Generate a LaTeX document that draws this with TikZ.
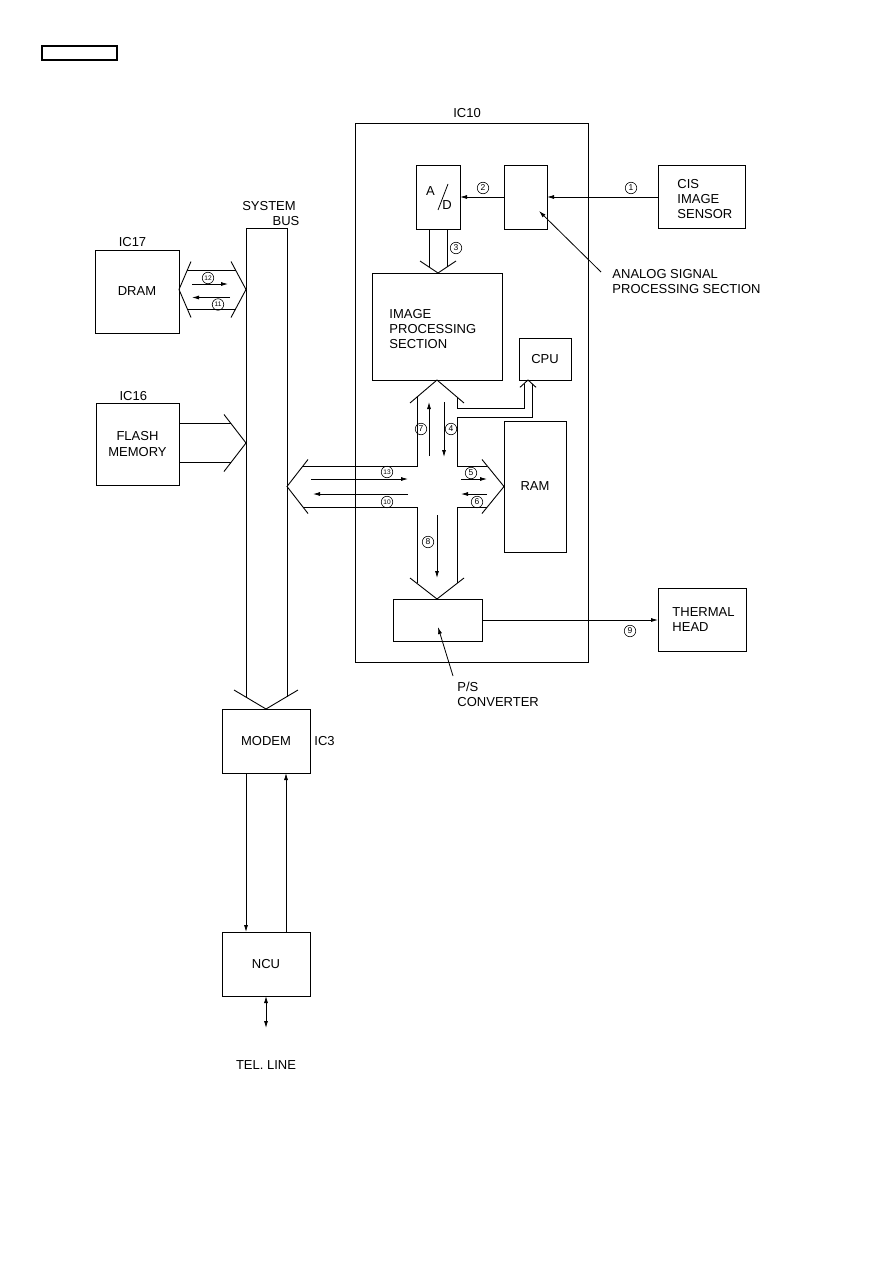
\documentclass[tikz,border=0pt]{standalone}
\usepackage{fontspec}
\setmainfont{Liberation Sans}
\usetikzlibrary{arrows.meta}
\begin{document}
\begin{tikzpicture}[x=1pt,y=-1pt,line width=0.9pt,
  every node/.style={font=\fontsize{13}{15}\selectfont},
  blk/.style={draw,inner sep=0pt,outer sep=0pt,anchor=north west},
  txt/.style={inner sep=0pt},
  num/.style={draw,circle,inner sep=0pt,minimum size=11.5pt,line width=0.6pt,font=\fontsize{8.5}{8.5}\selectfont},
  numx/.style={num,font=\fontsize{6.6}{6.6}\selectfont},
  sig/.style={-{Latex[length=7pt,width=4pt]},line width=0.8pt},
  dsig/.style={{Latex[length=7pt,width=4pt]}-{Latex[length=7pt,width=4pt]},line width=0.8pt}]

\useasboundingbox (0,0) rectangle (893,1263);
\node[blk,minimum width=75,minimum height=14,line width=1.3pt] (tag) at (42,46) {};

% ---------------- IC10 ----------------
\node[blk,minimum width=233,minimum height=539] (ic10) at (355,123) {};
\node[txt] (ic10l) at (467,113) {IC10};

% A/D
\node[blk,minimum width=44,minimum height=64] (ad) at (416,165) {};
\node[txt] (adA) at (430.5,191) {A};
\node[txt] (adD) at (447,205) {D};
\draw[line width=0.8pt] (448,184) -- (438,210);

% analog signal processing
\node[blk,minimum width=43,minimum height=64] (asp) at (504,165) {};

% CIS
\node[blk,minimum width=87,minimum height=63] (cis) at (658,165.5) {};
\node[txt,align=left,anchor=west] (cist) at (677,199.5) {CIS\\IMAGE\\SENSOR};

\draw[sig] (cis.west) -- (asp.east);
\draw[sig] (asp.west) -- (ad.east);
\node[num] (n1) at (631,188) {1};
\node[num] (n2) at (483,188) {2};

% bus 3
\draw (429,229) -- (429,267);
\draw (447,229) -- (447,267);
\draw (420,261) -- (438,273) -- (456,261);
\node[num] (n3) at (456,248) {3};

% image processing
\node[blk,minimum width=130,minimum height=107] (ips) at (372,273) {};
\node[txt,align=left,anchor=west] (ipst) at (389,329) {IMAGE\\PROCESSING\\SECTION};

% CPU, RAM, P/S
\node[blk,minimum width=52,minimum height=42] (cpu) at (519,338) {CPU};
\node[blk,minimum width=62,minimum height=131] (ram) at (504,421) {RAM};
\node[blk,minimum width=89,minimum height=42] (ps) at (393,599) {};

% cross bus
\draw (410,403) -- (437,380) -- (464,403);
\draw (302.9,466) -- (417,466) -- (417,397);
\draw (302.9,507) -- (417,507) -- (417,583.4);
\draw (457,397) -- (457,408) -- (524,408) -- (524,383.7);
\draw (532,383.7) -- (532,417) -- (457,417) -- (457,466) -- (487.3,466);
\draw (487.3,507) -- (457,507) -- (457,583.4);
\draw (308,459.5) -- (287,486.5) -- (308,513.5);
\draw (482,459.5) -- (504,486.5) -- (482,513.5);
\draw (520,387.3) -- (528,380) -- (536,387.3);
\draw (410,578) -- (437,599) -- (464,578);

% signals inside the cross
\coordinate (a13s) at (311,479);  \coordinate (a13e) at (408,479);
\coordinate (a10s) at (408,494);  \coordinate (a10e) at (313,494);
\coordinate (a5s) at (461,479);   \coordinate (a5e) at (487,479);
\coordinate (a6s) at (487,494);   \coordinate (a6e) at (461,494);
\coordinate (a7s) at (429,456);   \coordinate (a7e) at (429,402);
\coordinate (a4s) at (444,402);   \coordinate (a4e) at (444,457);
\coordinate (a8s) at (437,515);   \coordinate (a8e) at (437,578);
\draw[sig] (a13s) -- (a13e);
\draw[sig] (a10s) -- (a10e);
\draw[sig] (a5s) -- (a5e);
\draw[sig] (a6s) -- (a6e);
\draw[sig] (a7s) -- (a7e);
\draw[sig] (a4s) -- (a4e);
\draw[sig] (a8s) -- (a8e);
\node[numx] (n13) at (387,472) {13};
\node[numx] (n10) at (387,502) {10};
\node[num] (n5) at (471,473) {5};
\node[num] (n6) at (477,502) {6};
\node[num] (n7) at (421,429) {7};
\node[num] (n4) at (451,429) {4};
\node[num] (n8) at (428,542) {8};

% thermal head
\node[blk,minimum width=88,minimum height=63] (th) at (658,588.5) {};
\node[txt,align=left,anchor=west] (tht) at (672,620) {THERMAL\\HEAD};
\draw[sig] (ps.east) -- (th.west);
\node[num] (n9) at (630,631) {9};

% pointers
\coordinate (psp) at (453,676); \coordinate (pst) at (438,627);
\draw[sig] (psp) -- (pst);
\node[txt,align=left,anchor=north west] (psl) at (457,681.5) {P/S\\CONVERTER};
\coordinate (aspp) at (601,272); \coordinate (aspt) at (539,211);
\draw[sig] (aspp) -- (aspt);
\node[txt,align=left,anchor=north west] (aspl) at (612,268.5) {ANALOG SIGNAL\\PROCESSING SECTION};

% ---------------- system bus ----------------
\draw (246,697) -- (246,228) -- (287,228) -- (287,697);
\draw (234,690) -- (266,709) -- (298,690);
\node[txt] (sbl1) at (269,206) {SYSTEM};
\node[txt] (sbl2) at (286,220.7) {BUS};

% DRAM
\node[blk,minimum width=84,minimum height=83] (dram) at (95,250) {DRAM};
\node[txt] (ic17) at (132.5,242) {IC17};
\draw (191,261.5) -- (179,289.5) -- (191,317.5);
\draw (231,261.5) -- (246,289.5) -- (231,317.5);
\draw (187.2,270) -- (235.6,270);
\draw (187.2,309) -- (235.6,309);
\coordinate (a12s) at (192,284);   \coordinate (a12e) at (228,284);
\coordinate (a11s) at (230,297.5); \coordinate (a11e) at (192,297.5);
\draw[sig] (a12s) -- (a12e);
\draw[sig] (a11s) -- (a11e);
\node[numx] (n12) at (208,278) {12};
\node[numx] (n11) at (218,304.5) {11};

% FLASH
\node[blk,minimum width=83,minimum height=82,align=center,font=\fontsize{13}{16}\selectfont] (flash) at (96,403) {FLASH\\MEMORY};
\node[txt] (ic16) at (133.3,396) {IC16};
\draw (179,423.5) -- (231,423.5);
\draw (179,462.5) -- (231,462.5);
\draw (224,414.5) -- (246,443) -- (224,471.5);

% MODEM / NCU
\node[blk,minimum width=88,minimum height=64] (modem) at (222,709) {MODEM};
\node[txt,anchor=west] (ic3) at (314,741) {IC3};
\node[blk,minimum width=88,minimum height=64] (ncu) at (222,932) {NCU};
\draw[sig] ([xshift=-20pt]modem.south) -- ([xshift=-20pt]ncu.north);
\draw[sig] ([xshift=20pt]ncu.north) -- ([xshift=20pt]modem.south);
\coordinate (tel) at (266,1028);
\draw[dsig] (ncu.south) -- (tel);
\node[txt] (tell) at (266,1065) {TEL. LINE};
\end{tikzpicture}
\end{document}
